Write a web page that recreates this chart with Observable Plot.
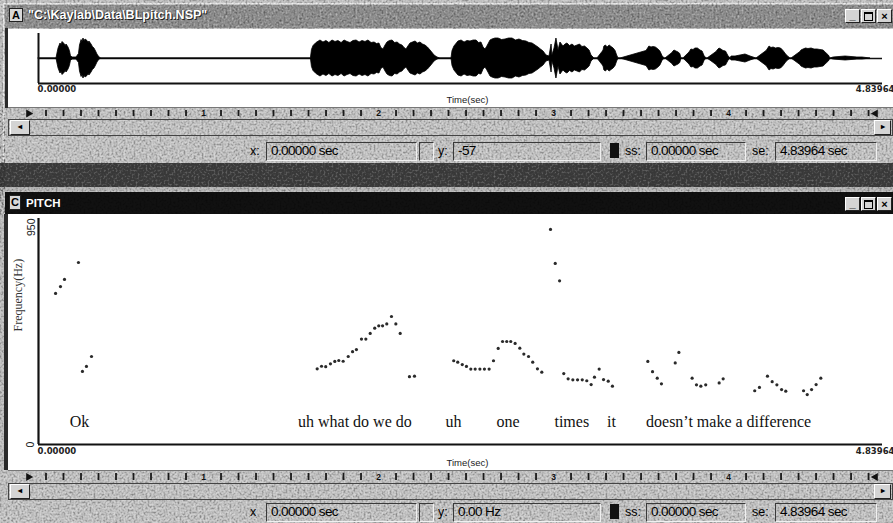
<!DOCTYPE html>
<html><head><meta charset="utf-8">
<script src="https://cdn.jsdelivr.net/npm/d3@7"></script>
<script src="https://cdn.jsdelivr.net/npm/@observablehq/plot@0.6"></script>
<style>
html,body{margin:0;padding:0;}
body{width:893px;height:523px;overflow:hidden;position:relative;background:#c6c6c6;font-family:"Liberation Sans",Arial,sans-serif;}
.a{position:absolute;box-sizing:border-box;}
.fld{border-top:1px solid #3a3a3a;border-left:1px solid #3a3a3a;border-bottom:1px solid #f0f0f0;border-right:1px solid #f0f0f0;font-size:13.5px;line-height:16px;padding-left:4px;letter-spacing:-0.6px;color:#000;white-space:nowrap;}
.lbl{font-size:12.5px;color:#000;white-space:nowrap;}
.btn{background:#d4d4d4;border-top:1px solid #fff;border-left:1px solid #fff;border-right:1px solid #222;border-bottom:1px solid #222;font-size:11px;font-weight:bold;line-height:12px;text-align:center;color:#000;}
.icon{background:#d8d8d8;border:1px solid #222;font-size:11px;font-weight:bold;line-height:12px;text-align:center;color:#000;}
.plot{position:absolute;left:0;}
</style></head><body>
<script>
// ---------- data ----------
const xEnd = 4.83964;
const xTicks = [0, xEnd];
const yTicks = [0, 950];
const rulerSeconds = [1, 2, 3, 4];

// pitch track (time s, frequency Hz)
const pitchT = [0.098,0.126,0.149,0.229,0.252,0.275,0.304,
  1.598,1.623,1.647,1.674,1.699,1.722,1.747,1.776,1.801,1.823,1.852,1.877,1.902,1.928,1.951,1.973,1.997,2.024,2.049,2.074,2.127,2.156,
  2.381,2.404,2.430,2.454,2.479,2.504,2.531,2.557,2.584,
  2.609,2.636,2.661,2.685,2.708,2.733,2.760,2.783,2.810,2.834,2.861,2.886,
  2.936,2.963,2.988,
  3.012,3.037,3.064,3.091,3.118,3.144,3.169,3.188,3.215,3.240,3.267,3.291,
  3.494,3.521,3.548,3.572,3.651,3.672,3.748,3.773,3.798,3.826,3.903,3.926,
  4.107,4.134,4.180,4.207,4.234,4.261,4.285,4.387,4.408,4.433,4.459,4.486];
const pitchHz = [635,664,694,765,307,328,370,
  318,329,327,339,349,353,350,370,390,399,443,443,467,489,499,499,507,538,507,467,285,287,
  352,346,336,328,317,317,317,317,317,
  352,404,433,433,433,425,405,380,370,346,318,304,
  904,761,688,
  298,276,272,272,272,268,252,283,317,273,266,245,
  349,306,279,255,343,387,279,251,245,251,259,276,
  226,240,287,264,251,231,224,226,210,231,252,279];

// word annotations
const words = ["Ok","uh what do we do","uh","one","times","it","doesn\u2019t make a difference"];
const wordT = [0.235,1.814,2.380,2.693,3.058,3.286,3.957];
const wordHz = 95;

// waveform envelope (time s, relative amplitude)
const waveT = [0,0.103,0.110,0.115,0.126,0.132,0.138,0.149,0.155,0.161,0.172,0.180,0.186,0.195,0.218,0.232,0.238,0.247,0.252,0.258,0.264,0.270,0.281,0.287,0.292,0.304,0.312,0.321,0.330,0.338,0.350,0.361,
  1.562,1.568,1.577,1.594,1.617,1.634,1.651,1.668,1.686,1.703,1.720,1.738,1.755,1.772,1.789,1.806,1.824,1.841,1.858,1.875,1.892,1.910,1.927,1.941,1.955,1.966,1.978,1.990,2.001,2.015,2.030,2.045,2.059,2.073,2.087,2.099,2.110,2.121,2.133,2.147,2.162,2.176,2.190,2.205,2.219,2.233,2.248,2.262,2.271,2.288,2.305,
  2.368,2.374,2.385,2.408,2.426,2.443,2.460,2.477,2.495,2.512,2.526,2.540,2.552,2.563,2.572,2.580,2.592,2.603,2.620,2.638,2.658,2.678,2.698,2.718,2.738,2.758,2.778,2.798,2.815,2.833,2.850,2.867,2.881,2.896,2.913,2.930,2.942,2.947,2.959,2.970,2.982,2.993,3.010,3.022,3.033,3.048,3.062,3.076,3.091,3.105,3.119,3.134,3.148,3.160,3.171,3.188,3.205,
  3.234,3.240,3.245,3.254,3.263,3.275,3.286,3.298,3.309,3.318,3.326,3.337,
  3.486,3.492,3.503,3.515,3.526,3.540,3.555,3.566,3.578,3.590,3.595,
  3.635,3.641,3.647,3.658,3.670,3.680,3.687,3.698,
  3.727,3.733,3.744,3.756,3.767,3.781,3.796,3.808,3.819,3.830,3.836,
  3.888,3.894,3.905,3.916,3.928,3.942,3.956,3.968,3.974,3.997,4.054,4.083,4.117,
  4.175,4.181,4.192,4.203,4.215,4.229,4.243,4.258,4.272,4.287,4.301,4.312,4.318,
  4.369,4.375,4.387,4.401,4.415,4.433,4.450,4.467,4.484,4.502,4.519,4.532,4.541,4.559,4.628,4.696,4.725,4.771,4.828];
const waveAmp = [0,0,0.24,0.40,0.60,0.54,0.66,0.58,0.50,0.56,0.44,0.30,0.10,0.04,0.04,0.18,0.52,0.74,0.66,0.80,0.70,0.76,0.70,0.62,0.68,0.56,0.46,0.40,0.28,0.16,0.04,0,
  0,0.34,0.50,0.62,0.72,0.64,0.70,0.62,0.72,0.66,0.70,0.62,0.72,0.66,0.62,0.70,0.72,0.64,0.70,0.66,0.72,0.62,0.64,0.58,0.60,0.42,0.36,0.52,0.64,0.70,0.72,0.62,0.64,0.56,0.52,0.42,0.36,0.48,0.60,0.64,0.68,0.60,0.64,0.56,0.52,0.44,0.32,0.20,0.12,0.04,0,
  0,0.30,0.48,0.68,0.72,0.64,0.70,0.68,0.72,0.72,0.62,0.64,0.44,0.36,0.46,0.56,0.72,0.76,0.80,0.80,0.74,0.76,0.80,0.80,0.72,0.76,0.70,0.68,0.62,0.60,0.52,0.44,0.36,0.28,0.12,0.08,0.56,0.12,0.40,0.80,0.32,0.64,0.48,0.56,0.60,0.50,0.56,0.48,0.52,0.56,0.46,0.48,0.40,0.32,0.12,0,
  0,0.26,0.32,0.48,0.52,0.44,0.52,0.46,0.40,0.30,0.12,0,
  0,0.30,0.36,0.48,0.44,0.46,0.44,0.36,0.28,0.10,0,
  0,0.22,0.28,0.32,0.28,0.24,0.18,0,
  0,0.20,0.24,0.36,0.34,0.40,0.40,0.32,0.28,0.10,0,
  0,0.26,0.32,0.40,0.36,0.30,0.28,0.10,0,0.08,0.08,0.16,0.08,
  0,0.30,0.36,0.48,0.42,0.44,0.40,0.42,0.40,0.30,0.16,0.06,0,
  0,0.26,0.32,0.36,0.40,0.38,0.40,0.36,0.36,0.34,0.32,0.20,0.12,0,0.04,0.08,0.04,0.04,0];

// ---------- window chrome ----------
function div(l,t,w,h,cls,style="",html=""){
  return `<div class="a ${cls}" style="left:${l}px;top:${t}px;width:${w}px;height:${h}px;${style}">${html}</div>`;
}
function buttons(top){
  return div(845,top,15,14,'btn','', '<span style="position:relative;top:-1px">_</span>') +
         div(861,top,15,14,'btn','', '<span style="display:inline-block;width:7px;height:6px;border:1px solid #000;border-top-width:2px;margin-top:2px"></span>') +
         div(877,top,15,14,'btn','', '\u00d7');
}
function statusBar(top, yText, xLabel){
  return div(250,top+2,14,16,'lbl','', xLabel) +
    div(266,top,151,19,'fld','', '0.00000 sec') +
    div(419,top,15,19,'fld','') +
    div(438,top+2,14,16,'lbl','', 'y:') +
    div(453,top,148,19,'fld','', yText) +
    div(610,top+1,9,15,'','background:#111;') +
    div(625,top+2,20,16,'lbl','', 'ss:') +
    div(646,top,100,19,'fld','', '0.00000 sec') +
    div(752,top+2,22,16,'lbl','', 'se:') +
    div(775,top,102,19,'fld','', '4.83964 sec');
}
let h = '';
// window A
h += div(3,3,890,160,'','background:#c8c8c8;border-top:1px solid #eee;border-left:1px solid #eee;');
h += div(5,5,888,23,'','background:#8e8e8e;');
// dark band
h += div(0,163,893,25,'','background:#383838;');
h += div(0,187,893,4,'','background:#bdbdbd;');
// window C
h += div(3,191,890,332,'','background:#c8c8c8;');
h += div(5,192,888,22,'','background:#111;');
// grain overlay on grey areas
h += `<svg class="a" style="left:0;top:0;pointer-events:none" width="893" height="523">
<defs>
<filter id="nk" x="0" y="0" width="1" height="1"><feTurbulence type="fractalNoise" baseFrequency="0.5" numOctaves="3" seed="4"/><feColorMatrix type="matrix" values="0 0 0 0 0  0 0 0 0 0  0 0 0 0 0  0.9 0 0 0 -0.38"/></filter>
<filter id="nw" x="0" y="0" width="1" height="1"><feTurbulence type="fractalNoise" baseFrequency="0.5" numOctaves="3" seed="9"/><feColorMatrix type="matrix" values="0 0 0 0 1  0 0 0 0 1  0 0 0 0 1  0.9 0 0 0 -0.40"/></filter>
<filter id="nd" x="0" y="0" width="1" height="1"><feTurbulence type="fractalNoise" baseFrequency="0.5" numOctaves="3" seed="2"/><feColorMatrix type="matrix" values="0 0 0 0 1  0 0 0 0 1  0 0 0 0 1  0.7 0 0 0 -0.33"/></filter>
</defs>
<rect x="0" y="0" width="893" height="29" filter="url(#nk)"/>
<rect x="0" y="0" width="893" height="29" filter="url(#nw)"/>
<rect x="0" y="107" width="893" height="56" filter="url(#nk)"/>
<rect x="0" y="107" width="893" height="56" filter="url(#nw)"/>
<rect x="0" y="163" width="893" height="24" filter="url(#nd)"/>
<rect x="0" y="187" width="893" height="27" filter="url(#nk)"/>
<rect x="0" y="470" width="893" height="53" filter="url(#nk)"/>
<rect x="0" y="470" width="893" height="53" filter="url(#nw)"/>
<rect x="0" y="29" width="5" height="441" filter="url(#nk)"/>
</svg>`;
h += div(9,8,14,14,'icon','', 'A');
h += div(28,7,320,16,'','color:#fff;font-weight:bold;font-size:12.5px;line-height:16px;white-space:nowrap;text-shadow:1px 1px 0 #222,-1px 0 0 #555;', '"C:\\Kaylab\\Data\\BLpitch.NSP"');
h += buttons(9);
h += div(8,29,885,78,'','background:#fff;');
h += div(5,28,3,80,'','background:#2a2a2a;');
h += div(8,107,885,12,'','border-top:1px solid #777;');
h += div(8,119,885,17,'','border:1px solid #444;');
h += div(10,120,20,15,'btn','font-size:8px;', '\u25c2');
h += div(874,120,17,15,'btn','font-size:8px;', '\u25b8');
h += statusBar(142, '-57', 'x:');
h += div(9,195,12,15,'icon','', 'C');
h += div(26,196,80,15,'','color:#fff;font-weight:bold;font-size:11.5px;line-height:15px;', 'PITCH');
h += buttons(197);
h += div(8,214,885,256,'','background:#fff;');
h += div(4,214,4,256,'','background:#2a2a2a;');
h += div(8,470,885,13,'','border-top:1px solid #777;');
h += div(8,483,885,17,'','border:1px solid #444;');
h += div(10,484,20,15,'btn','font-size:8px;', '\u25c2');
h += div(874,484,17,15,'btn','font-size:8px;', '\u25b8');
h += statusBar(503, '0.00 Hz', 'x');
h += `<div id="wave" class="plot" style="top:28px"></div><div id="rulerA" class="plot" style="top:107px"></div>
<div id="pitch" class="plot" style="top:213px"></div><div id="rulerC" class="plot" style="top:470px"></div>`;
document.body.insertAdjacentHTML('beforeend', h);

// ---------- plots ----------
const fmt = d3.format(".5f");
const tickFont = {fontFamily:"DejaVu Sans", fontSize:8.5, fontWeight:"bold", fill:"#222"};
const timeLabelFont = {fontFamily:"Liberation Sans", fontSize:9.5, fill:"#222"};
const base = {width:893, marginLeft:38, marginRight:11, style:{background:"transparent", overflow:"visible"}};

const wave = waveT.map((t,i)=>({t, a: waveAmp[i]}));
document.getElementById("wave").append(Plot.plot({
  ...base, height:80, marginTop:5, marginBottom:25,
  x:{domain:[0,xEnd], axis:null}, y:{domain:[-1,1], axis:null},
  marks:[
    Plot.ruleY([0], {stroke:"#111", strokeWidth:1.3}),
    Plot.areaY(wave, {x:"t", y1:d=>-d.a, y2:"a", fill:"#000", stroke:"#000", strokeWidth:0.8}),
    Plot.ruleX([0], {stroke:"#111", strokeWidth:2}),
    Plot.ruleY([-1], {stroke:"#111", strokeWidth:2}),
    Plot.text([xTicks[0]], {x:d=>d, text:fmt, frameAnchor:"bottom", dy:8, textAnchor:"start", dx:-1, ...tickFont}),
    Plot.text([xTicks[1]], {x:d=>d, text:fmt, frameAnchor:"bottom", dy:8, textAnchor:"end", dx:12, ...tickFont}),
    Plot.text(["Time(sec)"], {text:d=>d, frameAnchor:"bottom", dy:19, dx:7, ...timeLabelFont})
  ]
}));

const pitch = pitchT.map((t,i)=>({t, hz: pitchHz[i]}));
const labels = words.map((w,i)=>({w, t: wordT[i]}));
document.getElementById("pitch").append(Plot.plot({
  ...base, height:255, marginTop:5, marginBottom:24,
  x:{domain:[0,xEnd], axis:null}, y:{domain:[0,950], axis:null},
  marks:[
    Plot.dot(pitch, {x:"t", y:"hz", r:1.6, fill:"#2a2a2a", stroke:null}),
    Plot.text(labels, {x:"t", y:wordHz, text:"w", fontFamily:"Liberation Serif", fontSize:16, fill:"#111"}),
    Plot.ruleX([0], {stroke:"#111", strokeWidth:2.2}),
    Plot.ruleY([0], {stroke:"#111", strokeWidth:2.2}),
    Plot.text([yTicks[1]], {y:d=>d, text:d=>String(d), frameAnchor:"left", dx:-7, rotate:-90, textAnchor:"end", fontFamily:"Liberation Sans", fontSize:10.5, fill:"#222"}),
    Plot.text([yTicks[0]], {y:d=>d, text:d=>String(d), frameAnchor:"left", dx:-8, rotate:-90, textAnchor:"middle", fontFamily:"Liberation Sans", fontSize:10.5, fill:"#222"}),
    Plot.text(["Frequency(Hz)"], {text:d=>d, frameAnchor:"left", dx:-20, rotate:-90, fontFamily:"Liberation Serif", fontSize:12, fill:"#333"}),
    Plot.text([xTicks[0]], {x:d=>d, text:fmt, frameAnchor:"bottom", dy:9, textAnchor:"start", dx:-1, ...tickFont}),
    Plot.text([xTicks[1]], {x:d=>d, text:fmt, frameAnchor:"bottom", dy:9, textAnchor:"end", dx:12, ...tickFont}),
    Plot.text(["Time(sec)"], {text:d=>d, frameAnchor:"bottom", dy:21, dx:7, ...timeLabelFont})
  ]
}));

// rulers
const rulerTicks = d3.range(1, 49).map(i => i/10).filter(v => Math.abs(v - Math.round(v)) > 1e-9);
function ruler(id, h){
  document.getElementById(id).append(Plot.plot({
    width:893, height:h, marginLeft:28, marginRight:18, marginTop:0, marginBottom:0,
    style:{background:"transparent", overflow:"visible"},
    x:{domain:[0,xEnd], axis:null},
    marks:[
      Plot.tickX(rulerTicks, {x:d=>d, stroke:"#1a1a1a", strokeWidth:1.8, insetTop:3, insetBottom:3}),
      Plot.text(rulerSeconds, {x:d=>d, text:d=>String(d), frameAnchor:"middle", fontFamily:"Liberation Sans", fontWeight:"bold", fontSize:8.5, fill:"#111"}),
      Plot.dot([0], {x:d=>d, frameAnchor:"middle", symbol:"triangle", rotate:90, r:3, fill:"#111", stroke:null}),
      Plot.dot([xEnd], {x:d=>d, frameAnchor:"middle", symbol:"triangle", rotate:-90, r:3, fill:"#111", stroke:null})
    ]
  }));
}
ruler("rulerA", 12);
ruler("rulerC", 13);
</script>
</body></html>
